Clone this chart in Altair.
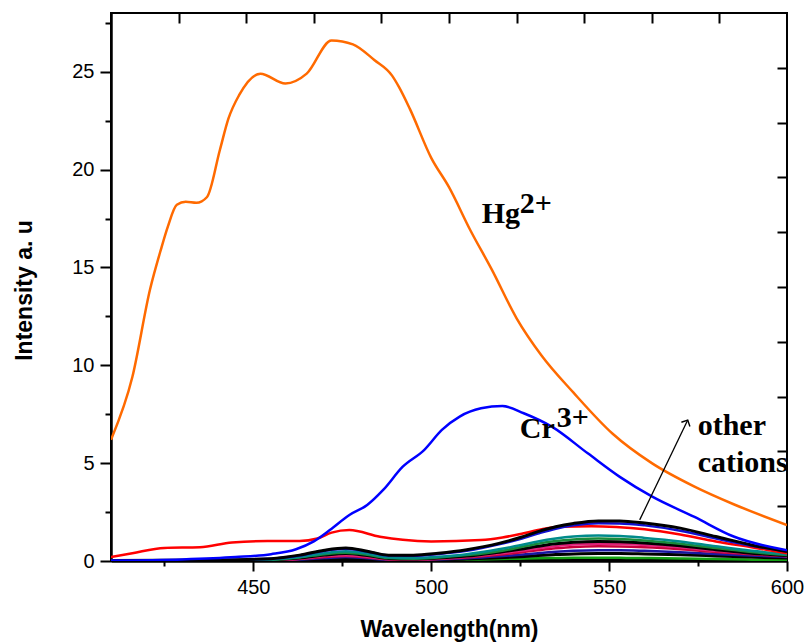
import altair as alt
import pandas as pd

# ---------------- data ----------------
hg_x = [410, 416, 421, 424, 426, 428.5, 431, 434, 437, 440.6, 443, 446, 452, 459, 465, 472, 478, 484,
        489, 491, 494, 500, 505, 511, 517, 524, 531, 540, 551, 562, 574, 585, 600]
hg_y = [6.2, 9.4, 13.9, 15.9, 17.1, 18.2, 18.35, 18.3, 18.6, 21.0, 22.6, 23.8, 24.9, 24.4, 24.9, 26.6, 26.4, 25.6,
        24.8, 24.2, 23.1, 20.6, 19.1, 16.9, 14.9, 12.4, 10.5, 8.6, 6.5, 5.0, 3.8, 2.9, 1.84]

cr_x = [410, 430, 445, 455, 462, 467, 471.5, 477, 482, 486.5, 492, 498, 503, 508, 514, 520,
        526, 534, 544, 553, 562, 574, 585, 600]
cr_y = [0.02, 0.08, 0.2, 0.35, 0.6, 1.0, 1.58, 2.35, 2.86, 3.63, 4.82, 5.67, 6.7, 7.38, 7.8, 7.92,
        7.55, 6.85, 5.5, 4.3, 3.3, 2.25, 1.25, 0.55]

red_x = [410, 416, 425, 435, 444, 454, 463, 468, 472, 477, 485.6, 492, 500, 514, 520, 526,
         530, 536, 545, 552, 560, 570, 580, 590, 600]
red_y = [0.2, 0.4, 0.67, 0.7, 0.95, 1.02, 1.02, 1.15, 1.45, 1.58, 1.24, 1.08, 1.0, 1.07, 1.2, 1.42,
         1.58, 1.75, 1.78, 1.74, 1.62, 1.35, 1.0, 0.7, 0.4]

# other cations (shared wavelength grid)
oc_x = [410, 440, 455, 463, 470, 476, 482, 488, 495, 502, 510, 519, 525, 530, 535,
        540, 547, 553, 560, 570, 580, 590, 600]
oc_black1 = [0.02, 0.05, 0.12, 0.3, 0.55, 0.66, 0.5, 0.3, 0.3, 0.4, 0.58, 0.9, 1.2, 1.5, 1.75,
             1.92, 2.05, 2.05, 1.94, 1.68, 1.25, 0.82, 0.48]
oc_blue = [0.02, 0.05, 0.12, 0.28, 0.52, 0.62, 0.48, 0.28, 0.27, 0.36, 0.52, 0.85, 1.12, 1.4, 1.65,
           1.82, 1.93, 1.92, 1.82, 1.55, 1.15, 0.78, 0.5]
oc_teal = [0.01, 0.03, 0.08, 0.2, 0.4, 0.5, 0.38, 0.18, 0.15, 0.22, 0.35, 0.6, 0.8, 1.0, 1.15,
           1.25, 1.3, 1.28, 1.18, 1.0, 0.75, 0.52, 0.35]
oc_green1 = [0.01, 0.03, 0.07, 0.18, 0.35, 0.42, 0.32, 0.15, 0.12, 0.18, 0.3, 0.5, 0.7, 0.88, 1.02,
             1.1, 1.15, 1.13, 1.05, 0.88, 0.66, 0.46, 0.3]
oc_black2 = [0.01, 0.02, 0.06, 0.15, 0.3, 0.38, 0.28, 0.13, 0.1, 0.15, 0.25, 0.45, 0.6, 0.75, 0.88,
             0.96, 1.0, 0.98, 0.92, 0.78, 0.58, 0.4, 0.28]
oc_magenta = [0.01, 0.02, 0.05, 0.12, 0.25, 0.3, 0.22, 0.1, 0.08, 0.12, 0.22, 0.38, 0.52, 0.65, 0.76,
              0.84, 0.88, 0.87, 0.82, 0.7, 0.52, 0.38, 0.26]
oc_crimson = [0.01, 0.02, 0.04, 0.1, 0.2, 0.25, 0.18, 0.08, 0.06, 0.1, 0.18, 0.32, 0.44, 0.55, 0.65,
              0.72, 0.75, 0.74, 0.7, 0.6, 0.46, 0.34, 0.24]
oc_navy = [0.0, 0.01, 0.03, 0.08, 0.15, 0.2, 0.14, 0.06, 0.05, 0.08, 0.14, 0.24, 0.32, 0.4, 0.47,
           0.52, 0.55, 0.55, 0.52, 0.45, 0.36, 0.28, 0.2]
oc_black3 = [0.0, 0.01, 0.02, 0.06, 0.12, 0.15, 0.1, 0.05, 0.04, 0.06, 0.1, 0.16, 0.22, 0.28, 0.33,
             0.36, 0.38, 0.38, 0.36, 0.32, 0.26, 0.2, 0.15]
oc_green2 = [0.0, 0.01, 0.05, 0.2, 0.35, 0.4, 0.3, 0.1, 0.04, 0.05, 0.07, 0.1, 0.12, 0.14, 0.15,
             0.16, 0.16, 0.16, 0.15, 0.13, 0.1, 0.07, 0.05]
oc_black4 = [0.0, 0.0, 0.01, 0.03, 0.06, 0.08, 0.05, 0.02, 0.02, 0.02, 0.03, 0.05, 0.06, 0.07, 0.08,
             0.08, 0.08, 0.08, 0.07, 0.06, 0.05, 0.04, 0.03]

x_ticks = [425, 450, 475, 500, 525, 550, 575, 600]
y_ticks = [0, 2.5, 5, 7.5, 10, 12.5, 15, 17.5, 20, 22.5, 25, 27.5]

labels_text = ["Hg", "2+", "Cr", "3+", "other", "cations"]
labels_x = [514.2, 524.9, 524.9, 535.3, 574.9, 574.9]
labels_y = [17.28, 17.8, 6.29, 6.85, 6.44, 4.55]

arrow_x = [558.6, 572.1]
arrow_y = [2.1, 7.2]

# ---------------- chart ----------------
XSCALE = alt.Scale(domain=[410, 600], nice=False, zero=False)
YSCALE = alt.Scale(domain=[0, 28], nice=False)

x_axis = alt.Axis(
    values=x_ticks, title="Wavelength(nm)",
    labelExpr="datum.value % 50 === 0 ? datum.label : ''",
    tickSize={"condition": {"test": "datum.value % 50 === 0", "value": 10}, "value": 5},
    labelFlush=False, labelOverlap=False, labelPadding=6,
    titleX=338, titleY=68, titleBaseline="middle", titleAlign="center",
)
y_axis = alt.Axis(
    values=y_ticks, title="Intensity a. u",
    labelExpr="datum.value % 5 === 0 ? datum.label : ''",
    tickSize={"condition": {"test": "datum.value % 5 === 0", "value": 11}, "value": 6},
    labelFlush=False, labelOverlap=False, labelPadding=6,
    titleX=-87, titleY=277, titleBaseline="middle", titleAlign="center", titleAngle=-90,
)


def line(xs, ys, color, width=2.5):
    df = pd.DataFrame({"x": xs, "y": ys})
    return alt.Chart(df).mark_line(color=color, strokeWidth=width, interpolate="monotone", clip=True).encode(
        x=alt.X("x:Q", scale=XSCALE, axis=x_axis),
        y=alt.Y("y:Q", scale=YSCALE, axis=y_axis),
    )


layers = [
    line(oc_x, oc_black4, "#000000", 3),
    line(oc_x, oc_green2, "#14a014"),
    line(oc_x, oc_black3, "#000000", 3),
    line(oc_x, oc_navy, "#1818a0"),
    line(oc_x, oc_crimson, "#c8003c"),
    line(oc_x, oc_magenta, "#e0207a"),
    line(oc_x, oc_black2, "#000000", 3),
    line(oc_x, oc_green1, "#1a8a3a"),
    line(oc_x, oc_teal, "#008b8b"),
    line(red_x, red_y, "#ff0000"),
    line(oc_x, oc_blue, "#1010d0"),
    line(oc_x, oc_black1, "#000000", 3),
    line(cr_x, cr_y, "#0000ff"),
    line(hg_x, hg_y, "#ff6a00"),
]

arrow_df = pd.DataFrame({"x": arrow_x, "y": arrow_y})
arrow = alt.Chart(arrow_df).mark_line(color="black", strokeWidth=1.3).encode(
    x=alt.X("x:Q", scale=XSCALE, axis=x_axis), y=alt.Y("y:Q", scale=YSCALE, axis=y_axis)
)
head = alt.Chart(arrow_df.iloc[[1]]).mark_point(
    shape="M-1,1L0,0L1,1", filled=False, stroke="black", strokeWidth=1.4, size=90, angle=26, opacity=1
).encode(x=alt.X("x:Q", scale=XSCALE, axis=x_axis), y=alt.Y("y:Q", scale=YSCALE, axis=y_axis))

text_df = pd.DataFrame({"t": labels_text, "x": labels_x, "y": labels_y})
texts = alt.Chart(text_df).mark_text(
    font="Liberation Serif", fontWeight="bold", fontSize=30, align="left", baseline="alphabetic", color="black"
).encode(
    x=alt.X("x:Q", scale=XSCALE, axis=x_axis), y=alt.Y("y:Q", scale=YSCALE, axis=y_axis), text="t:N"
)

main = alt.layer(*layers, arrow, head, texts)

helper_df = pd.DataFrame({"tx": [0, 10], "ty": [0, 10]})
helper = alt.Chart(helper_df).mark_point(opacity=0).encode(
    x=alt.X("tx:Q", scale=alt.Scale(domain=[0, 10], nice=False),
            axis=alt.Axis(orient="top", values=[1, 2, 3, 4, 5, 6, 7, 8, 9], labels=False, domain=False,
                          tickSize=10, offset=-10, title=None)),
    y=alt.Y("ty:Q", scale=alt.Scale(domain=[0, 10], nice=False),
            axis=alt.Axis(orient="right", values=[1, 2, 3, 4, 5, 6, 7, 8, 9], labels=False, domain=False,
                          tickSize=10, offset=-10, title=None)),
)

chart = alt.layer(main, helper).resolve_scale(x="independent", y="independent").properties(
    width=676, height=548,
    autosize=alt.AutoSizeParams(type="none"),
    padding={"left": 111, "top": 13, "right": 17, "bottom": 82},
    background="white",
).configure_view(stroke="black", strokeWidth=2).configure_axis(
    labelFont="Liberation Sans", labelFontSize=20, labelColor="black",
    titleFont="Liberation Sans", titleFontSize=23, titleFontWeight="bold", titleColor="black",
    tickColor="black", tickWidth=2, domainColor="black", domainWidth=2.5, grid=False,
)

chart.save("out.html", embed_options={"renderer": "svg", "actions": False})
